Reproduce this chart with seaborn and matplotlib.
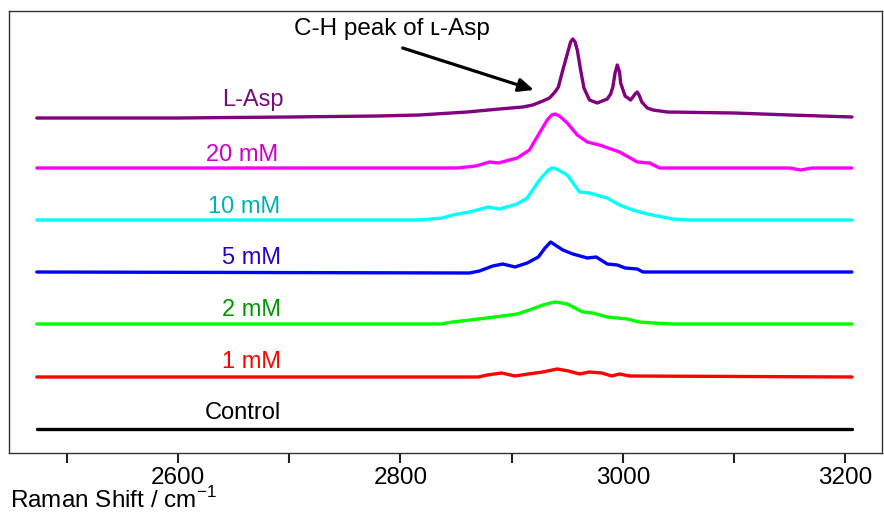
import numpy as np
import pandas as pd
import matplotlib
matplotlib.use("Agg")
import matplotlib.pyplot as plt
import seaborn as sns

# Raman shift (cm-1) and intensity above each trace's own baseline (a.u.)
asp_x = [2473, 2600, 2700, 2780, 2817, 2860, 2889, 2910, 2919, 2928, 2934, 2939, 2942, 2946,
         2951, 2953, 2955, 2957, 2959, 2962, 2965, 2970, 2977, 2986, 2989, 2991, 2993, 2995,
         2997, 2998, 3002, 3007, 3011, 3013, 3015, 3017, 3022, 3027, 3040, 3100, 3150, 3206]
asp_y = [0, 0, 1, 2, 3, 6, 9, 11, 13, 17, 20, 26, 31, 48,
         68, 76, 79, 76, 68, 48, 30, 18, 15, 19, 24, 31, 45, 53,
         46, 35, 22, 18, 24, 26, 22, 16, 10, 8, 6, 5, 3, 1]

mm20_x = [2473, 2851, 2868, 2880, 2888, 2905, 2916, 2925, 2932, 2936, 2939, 2943, 2950,
          2959, 2968, 2979, 2997, 3013, 3024, 3033, 3150, 3160, 3170, 3206]
mm20_y = [0, 0, 2, 6, 5, 10, 18, 35, 48, 53, 54, 52, 45,
          33, 26, 23, 16, 6, 5, 0, 0, -2, 0, 0]

mm10_x = [2473, 2817, 2838, 2847, 2862, 2879, 2889, 2905, 2914, 2925, 2933, 2936, 2938,
          2942, 2950, 2961, 2970, 2986, 2997, 3009, 3022, 3045, 3060, 3206]
mm10_y = [0, 0, 2, 5, 8, 13, 11, 16, 22, 40, 50, 52, 52,
          50, 45, 28, 27, 22, 15, 10, 6, 1, 0, 0]

mm5_x = [2473, 2862, 2871, 2883, 2892, 2903, 2914, 2924, 2930, 2935, 2946, 2955, 2968,
         2976, 2986, 2995, 3002, 3013, 3018, 3206]
mm5_y = [0, -1, 1, 6, 8, 5, 9, 15, 24, 30, 22, 18, 14,
         15, 8, 7, 4, 3, 0, 0]

mm2_x = [2473, 2836, 2847, 2878, 2905, 2916, 2928, 2935, 2939, 2945, 2950, 2964, 2973,
         2986, 3004, 3015, 3027, 3045, 3206]
mm2_y = [0, 0, 2, 6, 10, 14, 19, 21, 22, 21, 20, 12, 11,
         7, 5, 2, 1, 0, 0]

mm1_x = [2473, 2870, 2878, 2891, 2903, 2915, 2928, 2941, 2951, 2961, 2970, 2981, 2990,
         2997, 3006, 3206]
mm1_y = [0, 0, 2, 4, 1, 3, 5, 8, 6, 3, 5, 4, 1,
         3, 1, 0]

ctrl_x = [2473, 3206]
ctrl_y = [0, 0]

samples = ["L-Asp", "20 mM", "10 mM", "5 mM", "2 mM", "1 mM", "Control"]
offsets = [311, 261, 209, 157, 105, 52, 0]
line_colors = ["#800080", "#ff00ff", "#00ffff", "#0000ff", "#00ff00", "#ff0000", "#000000"]
label_colors = ["#7a0a7a", "#cc00cc", "#00b3b3", "#2a00cc", "#009900", "#ff0000", "#000000"]
label_x = [2667, 2658, 2659, 2666, 2666, 2666, 2658]
label_y = [329, 274, 222, 171, 119, 67, 16]

major_ticks = [2600, 2800, 3000, 3200]
minor_ticks = [2500, 2700, 2900, 3100]

xs = [asp_x, mm20_x, mm10_x, mm5_x, mm2_x, mm1_x, ctrl_x]
ys = [asp_y, mm20_y, mm10_y, mm5_y, mm2_y, mm1_y, ctrl_y]

frames = []
for name, off, x, y in zip(samples, offsets, xs, ys):
    frames.append(pd.DataFrame({"shift": x, "intensity": np.array(y) + off, "sample": name}))
df = pd.concat(frames, ignore_index=True)

sns.set_style("ticks")
plt.rcParams["font.family"] = ["Liberation Sans", "DejaVu Sans"]
plt.rcParams["text.color"] = "black"

fig = plt.figure(figsize=(8.84, 5.14), dpi=100)
ax = fig.add_axes([0.0102, 0.1187, 0.9875, 0.8599])

sns.lineplot(data=df, x="shift", y="intensity", hue="sample", hue_order=samples,
             palette=dict(zip(samples, line_colors)), estimator=None, sort=False,
             linewidth=2.4, legend=False, ax=ax)
for ln in ax.get_lines():
    ln.set_solid_joinstyle("round")

for name, c, lx, ly in zip(samples, label_colors, label_x, label_y):
    ax.text(lx, ly, name, color=c, fontsize=17, ha="center", va="center")

# annotation: text and arrow drawn separately
ax.text(2792, 400, "C-H peak of \u029f-Asp", fontsize=17.5, ha="center", va="center")
ax.annotate("", xy=(2920, 339), xytext=(2802, 381),
            arrowprops=dict(arrowstyle="-|>,head_length=0.9,head_width=0.4",
                            color="black", lw=2.3, shrinkA=0, shrinkB=0))

ax.set_xlim(2448, 3233)
ax.set_ylim(-24, 418)
ax.set_yticks([])
ax.set_xticks(major_ticks)
ax.set_xticks(minor_ticks, minor=True)
ax.tick_params(axis="x", which="both", direction="out", length=7, width=1.5,
               color="#222222")
ax.tick_params(axis="x", which="major", labelcolor="black", labelsize=17.5, pad=3)
for s in ax.spines.values():
    s.set_linewidth(1.0)
    s.set_color("#333333")
ax.set_xlabel("")
ax.set_ylabel("")
fig.text(0.011, 0.012, "Raman Shift / cm$^{\\mathregular{-1}}$", fontsize=17.5,
         ha="left", va="baseline")

fig.savefig("out.png", dpi=100)
